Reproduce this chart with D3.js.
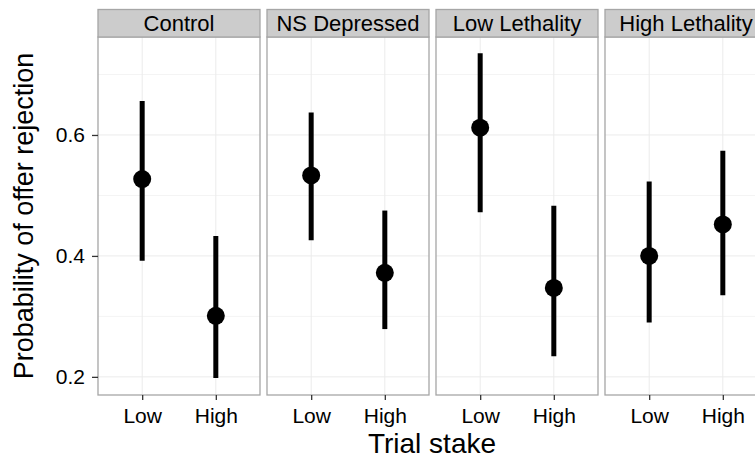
<!DOCTYPE html>
<meta charset="utf-8">
<script src="https://d3js.org/d3.v7.min.js"></script>
<style>
body { margin: 0; background: #fff; }
text { font-family: "Liberation Sans", Arial, sans-serif; fill: #000; }
</style>
<div id="chart"></div>
<script>

// groups (facets) and stakes
var groups = ["Control", "NS Depressed", "Low Lethality", "High Lethality"];
var stakes = ["Low", "High"];

// estimates per group, order: Low, High
var est   = [[0.527, 0.301], [0.533, 0.372], [0.612, 0.347], [0.400, 0.452]];
var lower = [[0.392, 0.198], [0.426, 0.279], [0.472, 0.234], [0.290, 0.335]];
var upper = [[0.656, 0.433], [0.637, 0.475], [0.735, 0.483], [0.523, 0.574]];

var yTicks = [0.2, 0.4, 0.6];
var yMinor = [0.3, 0.5, 0.7];

var W = 755, H = 462;
var plotTop = 37, plotBottom = 395, stripTop = 9.5;

var svg = d3.select("#chart").append("svg")
  .attr("width", W).attr("height", H);

var facet = d3.scaleBand()
  .domain(groups)
  .range([98, 98 + 4 * 162 + 3 * 7])
  .paddingInner(7 / 169);

var x = d3.scalePoint()
  .domain(stakes)
  .range([0, facet.bandwidth()])
  .padding(0.6);

var y = d3.scaleLinear()
  .domain([0.17, 0.762])
  .range([plotBottom, plotTop]);

var rows = [];
groups.forEach(function(g, i) {
  stakes.forEach(function(s, j) {
    rows.push({group: g, stake: s, est: est[i][j], lo: lower[i][j], hi: upper[i][j]});
  });
});

groups.forEach(function(g) {
  var p = svg.append("g").attr("transform", "translate(" + facet(g) + ",0)");
  var bw = facet.bandwidth();

  // minor grid
  p.selectAll(".minor").data(yMinor).enter().append("line")
    .attr("x1", 0).attr("x2", bw)
    .attr("y1", function(d) { return y(d); }).attr("y2", function(d) { return y(d); })
    .attr("stroke", "#f4f4f4").attr("stroke-width", 1);

  // major grid
  p.selectAll(".major").data(yTicks).enter().append("line")
    .attr("x1", 0).attr("x2", bw)
    .attr("y1", function(d) { return y(d); }).attr("y2", function(d) { return y(d); })
    .attr("stroke", "#ebebeb").attr("stroke-width", 1);
  p.selectAll(".vmajor").data(stakes).enter().append("line")
    .attr("x1", function(d) { return x(d); }).attr("x2", function(d) { return x(d); })
    .attr("y1", plotTop).attr("y2", plotBottom)
    .attr("stroke", "#ebebeb").attr("stroke-width", 1);

  // error bars + points
  var d = rows.filter(function(r) { return r.group === g; });
  p.selectAll(".bar").data(d).enter().append("line")
    .attr("x1", function(r) { return x(r.stake); }).attr("x2", function(r) { return x(r.stake); })
    .attr("y1", function(r) { return y(r.lo); }).attr("y2", function(r) { return y(r.hi); })
    .attr("stroke", "#000").attr("stroke-width", 5);
  p.selectAll(".pt").data(d).enter().append("circle")
    .attr("cx", function(r) { return x(r.stake); })
    .attr("cy", function(r) { return y(r.est); })
    .attr("r", 9).attr("fill", "#000");

  // panel border
  p.append("rect")
    .attr("x", 0).attr("y", plotTop).attr("width", bw).attr("height", plotBottom - plotTop)
    .attr("fill", "none").attr("stroke", "#a6a6a6").attr("stroke-width", 1.3);

  // strip
  p.append("rect")
    .attr("x", 0).attr("y", stripTop).attr("width", bw).attr("height", plotTop - stripTop)
    .attr("fill", "#cccccc").attr("stroke", "#a6a6a6").attr("stroke-width", 1.3);
  p.append("text")
    .attr("x", bw / 2).attr("y", 30.5)
    .attr("text-anchor", "middle")
    .style("font-size", "22px")
    .text(g);

  // x axis
  var xa = p.append("g")
    .attr("transform", "translate(0," + plotBottom + ")")
    .call(d3.axisBottom(x).tickSize(5).tickPadding(8));
  xa.select(".domain").remove();
  xa.selectAll("line").attr("stroke", "#333").attr("stroke-width", 1.3);
  xa.selectAll("text").style("font-size", "21px").attr("fill", "#111")
    .style("font-family", "Liberation Sans, Arial, sans-serif");
});

// y axis
var ya = svg.append("g")
  .attr("transform", "translate(98,0)")
  .call(d3.axisLeft(y).tickValues(yTicks).tickFormat(d3.format(".1f")).tickSize(6).tickPadding(7));
ya.select(".domain").remove();
ya.selectAll("line").attr("stroke", "#333").attr("stroke-width", 1.3);
ya.selectAll("text").style("font-size", "21px").attr("fill", "#111")
  .style("font-family", "Liberation Sans, Arial, sans-serif");

// axis titles
svg.append("text")
  .attr("x", 432).attr("y", 453)
  .attr("text-anchor", "middle")
  .style("font-size", "28px")
  .text("Trial stake");

svg.append("text")
  .attr("transform", "translate(33," + ((plotTop + plotBottom) / 2) + ") rotate(-90)")
  .attr("text-anchor", "middle")
  .style("font-size", "27px")
  .text("Probability of offer rejection");

</script>
